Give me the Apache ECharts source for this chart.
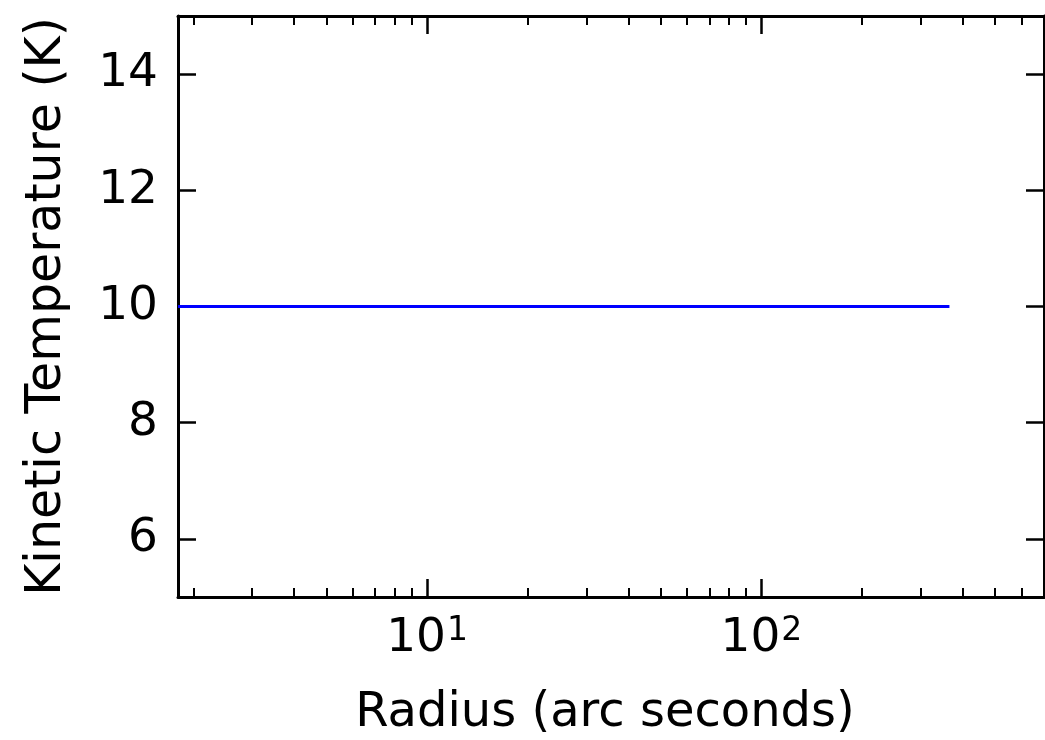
<!DOCTYPE html>
<html>
<head>
<meta charset="utf-8">
<script src="https://cdn.jsdelivr.net/npm/echarts@6/dist/echarts.min.js"></script>
<style>
html,body{margin:0;padding:0;background:#fff;}
#chart{width:1045px;height:740px;}
</style>
</head>
<body>
<div id="chart"></div>
<script>
// Data
var radius = [1.8, 365];
var temperature = [10, 10];
var xMajorTicks = [10, 100];
var xMinorTicks = [2, 3, 4, 5, 6, 7, 8, 9, 20, 30, 40, 50, 60, 70, 80, 90, 200, 300, 400, 500, 600, 700];
var yTicks = [6, 8, 10, 12, 14];
var xName = 'Radius (arc seconds)';
var yName = 'Kinetic Temperature (K)';

var FONT = 'DejaVu Sans';
var FS = 47;
var NAME_FS = 48;
var xMin = 1.8, xMax = 700, yMin = 5, yMax = 15;

function logAxis(pos, major, withLabel) {
  return {
    type: 'log', logBase: 10, position: pos, min: xMin, max: xMax,
    axisLine: {show: major, lineStyle: {color: '#000', width: 3}},
    axisTick: {show: true, inside: true, length: major ? 18 : 9,
      customValues: major ? xMajorTicks : xMinorTicks,
      lineStyle: {color: '#000', width: major ? 2.5 : 2}},
    minorTick: {show: false},
    splitLine: {show: false},
    axisLabel: withLabel ? {
      show: true, customValues: xMajorTicks, margin: 18,
      formatter: function (v) {
        var e = Math.round(Math.log10(v));
        return '{b|10}{s|' + e + '}';
      },
      rich: {
        b: {fontFamily: FONT, fontSize: FS, color: '#000', lineHeight: 56, verticalAlign: 'top'},
        s: {fontFamily: FONT, fontSize: 33, color: '#000', lineHeight: 30, verticalAlign: 'top', padding: [0, 0, 0, 1]}
      }
    } : {show: false},
    name: withLabel ? xName : '',
    nameLocation: 'middle', nameGap: 93,
    nameTextStyle: {fontFamily: FONT, fontSize: NAME_FS, color: '#000', padding: [0, 12, 0, 0]}
  };
}

function valAxis(pos, withLabel) {
  return {
    type: 'value', position: pos, min: yMin, max: yMax,
    axisLine: {show: true, lineStyle: {color: '#000', width: 3}},
    axisTick: {show: true, inside: true, length: 18, customValues: yTicks,
      lineStyle: {color: '#000', width: 2.5}},
    splitLine: {show: false},
    axisLabel: withLabel ? {show: true, customValues: yTicks, margin: 20,
      fontFamily: FONT, fontSize: FS, color: '#000', padding: [0, 0, 11, 0]} : {show: false},
    name: withLabel ? yName : '',
    nameLocation: 'middle', nameGap: 106,
    nameTextStyle: {fontFamily: FONT, fontSize: NAME_FS + 1, color: '#000'}
  };
}

var chart = echarts.init(document.getElementById('chart'), null, {renderer: 'canvas'});
chart.setOption({
  animation: false,
  backgroundColor: '#fff',
  grid: {left: 178, right: 1, top: 16, bottom: 143, containLabel: false, outerBoundsMode: 'none'},
  xAxis: [
    logAxis('bottom', true, true),
    logAxis('bottom', false, false),
    logAxis('top', true, false),
    logAxis('top', false, false)
  ],
  yAxis: [
    valAxis('left', true),
    valAxis('right', false)
  ],
  series: [{
    type: 'line',
    xAxisIndex: 0, yAxisIndex: 0,
    data: radius.map(function (r, i) { return [r, temperature[i]]; }),
    showSymbol: false,
    lineStyle: {color: '#0000ff', width: 3},
    clip: true
  }]
});
</script>
</body>
</html>
